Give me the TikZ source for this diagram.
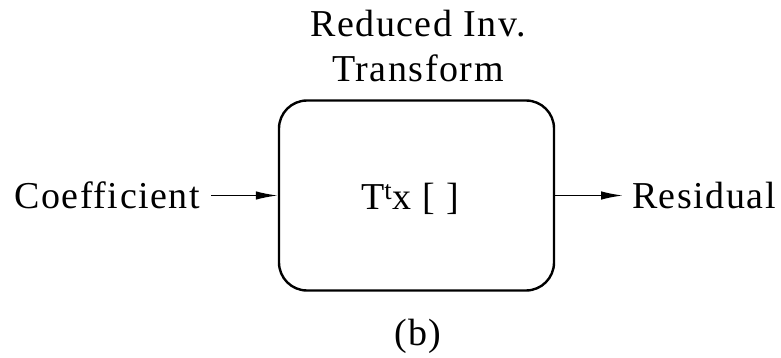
\documentclass[tikz,border=0pt]{standalone}
\usepackage{fontspec}
\setmainfont{Liberation Serif}[LetterSpace=4]
\usetikzlibrary{arrows.meta}
\begin{document}
\begin{tikzpicture}[x=1pt,y=-1pt,
  lbl/.style={font=\fontsize{38}{45}\selectfont, inner sep=0pt},
  blk/.style={draw, line width=2.4pt, rounded corners=28pt, minimum width=275pt, minimum height=190pt, inner sep=0pt},
  arr/.style={line width=1.6pt, -{Latex[length=22pt,width=8.5pt]}}]
\useasboundingbox (0,0) rectangle (781,358);
\node[blk] (box) at (416.5,195.5) {};
\node[lbl, anchor=base] (body) at (410,209) {T\textsuperscript{t}x [ ]};
\node[lbl, anchor=base, align=center] (title) at (418,82) {Reduced Inv.\\Transform};
\node[lbl, anchor=base east, outer xsep=11pt] (coef) at (211,208) {Coefficient};
\node[lbl, anchor=base west, outer xsep=9pt] (res) at (623,208) {Residual};
\node[lbl, anchor=base] (cap) at (418,345) {(b)};
\draw[arr] (coef.east |- box.west) -- (box.west);
\draw[arr] (box.east) -- (res.west |- box.east);
\end{tikzpicture}
\end{document}
